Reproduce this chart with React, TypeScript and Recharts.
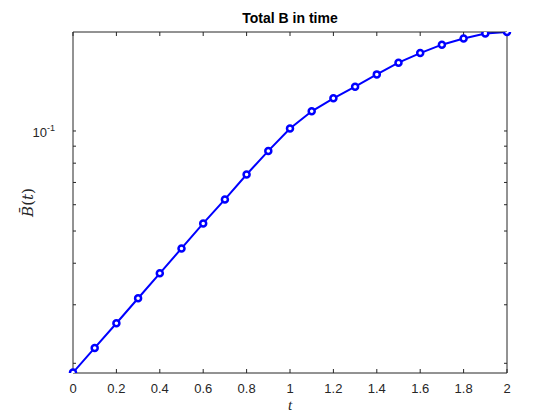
import * as React from 'react';
import { LineChart, Line, XAxis, YAxis, Label } from 'recharts';

// time steps and total B
const times = [0, 0.1, 0.2, 0.3, 0.4, 0.5, 0.6, 0.7, 0.8, 0.9, 1, 1.1, 1.2, 1.3, 1.4, 1.5, 1.6, 1.7, 1.8, 1.9, 2];
const totalB = [
	0.01876, 0.02225, 0.0264, 0.03139, 0.0373, 0.04433, 0.05271, 0.06223, 0.07397, 0.0871,
	0.1017, 0.1146, 0.1254, 0.1359, 0.148, 0.1605, 0.1715, 0.1818, 0.1898, 0.1965, 0.1985,
];

const xTicks = [0, 0.2, 0.4, 0.6, 0.8, 1, 1.2, 1.4, 1.6, 1.8, 2];
const xTickLabels = ['0', '0.2', '0.4', '0.6', '0.8', '1', '1.2', '1.4', '1.6', '1.8', '2'];
const yTicks = [0.02, 0.03, 0.04, 0.05, 0.06, 0.07, 0.08, 0.09, 0.1];
const yMajor = [0.1];
const yDomain = [0.0187, 0.1985];

const data = times.map((t, i) => ({ t, b: totalB[i] }));

const AX = '#262626';
const FONT = 'Liberation Sans, Arial, sans-serif';
const TICK = { stroke: AX, strokeWidth: 1 };

const bottomTick = (props) => {
	const { x, y, index } = props;
	return (
		<text x={x} y={y + 24} textAnchor="middle" fontSize={13} fill={AX} fontFamily={FONT}>
			{xTickLabels[index]}
		</text>
	);
};

const noLabel = () => <g />;

const leftTick = (props) => {
	const { x, y, payload } = props;
	if (!yMajor.includes(payload.value)) return <g />;
	return (
		<text x={x - 21} y={y + 6} textAnchor="end" fontSize={13} fill={AX} fontFamily={FONT}>
			10
			<tspan fontSize={9} dy={-6}>-1</tspan>
		</text>
	);
};

export default function App() {
	return (
		<div style={{ position: 'absolute', left: 0, top: 0, background: '#fff' }}>
			<LineChart
				width={560}
				height={420}
				data={data}
				margin={{ top: 31, right: 52, bottom: 0, left: 0 }}
			>
				<XAxis
					dataKey="t"
					type="number"
					domain={[0, 2]}
					ticks={xTicks}
					interval={0}
					height={47}
					tickSize={-4}
					tickMargin={0}
					tickLine={TICK}
					tick={bottomTick}
					axisLine={{ stroke: AX, strokeWidth: 1 }}
				>
					<Label
						content={(p) => {
							const vb = p.viewBox;
							return (
								<text x={vb.x + vb.width / 2} y={vb.y + 37} textAnchor="middle" fontSize={15} fill={AX} fontFamily="Liberation Serif, serif" fontStyle="italic">
									t
								</text>
							);
						}}
					/>
				</XAxis>
				<XAxis
					xAxisId="top"
					dataKey="t"
					orientation="top"
					type="number"
					domain={[0, 2]}
					ticks={xTicks}
					interval={0}
					height={1}
					tickSize={-4}
					tickMargin={0}
					tickLine={TICK}
					tick={noLabel}
					axisLine={{ stroke: AX, strokeWidth: 1 }}
				>
					<Label
						content={(p) => {
							const vb = p.viewBox;
							return (
								<text x={vb.x + vb.width / 2} y={vb.y - 8} textAnchor="middle" fontSize={14} fontWeight="bold" fill="#000" fontFamily={FONT}>
									Total B in time
								</text>
							);
						}}
					/>
				</XAxis>
				<YAxis
					scale="log"
					type="number"
					domain={yDomain}
					allowDataOverflow
					ticks={yTicks}
					interval={0}
					width={73}
					tickSize={-3}
					tickMargin={0}
					tickLine={TICK}
					tick={leftTick}
					axisLine={{ stroke: AX, strokeWidth: 1 }}
				>
					<Label
						content={(p) => {
							const vb = p.viewBox;
							const cx = 33;
							const cy = vb.y + vb.height / 2;
							return (
								<text x={cx} y={cy} transform={`rotate(-90 ${cx} ${cy})`} textAnchor="middle" fontSize={15} fill={AX} fontFamily="DejaVu Serif, serif">
									<tspan fontStyle="italic">B&#772;</tspan>(<tspan fontStyle="italic">t</tspan>)
								</text>
							);
						}}
					/>
				</YAxis>
				<YAxis
					yAxisId="right"
					orientation="right"
					scale="log"
					type="number"
					domain={yDomain}
					allowDataOverflow
					ticks={yTicks}
					interval={0}
					width={1}
					tickSize={-3}
					tickMargin={0}
					tickLine={TICK}
					tick={noLabel}
					axisLine={{ stroke: AX, strokeWidth: 1 }}
				/>
				{/* invisible series so the mirrored top/right axes get drawn */}
				<Line
					xAxisId="top"
					yAxisId="right"
					dataKey="b"
					stroke="none"
					dot={false}
					activeDot={false}
					isAnimationActive={false}
				/>
				<Line
					dataKey="b"
					type="linear"
					stroke="#0000ff"
					strokeWidth={2}
					dot={{ r: 3, stroke: '#0000ff', strokeWidth: 2.5, fill: '#fff' }}
					isAnimationActive={false}
				/>
			</LineChart>
		</div>
	);
}
